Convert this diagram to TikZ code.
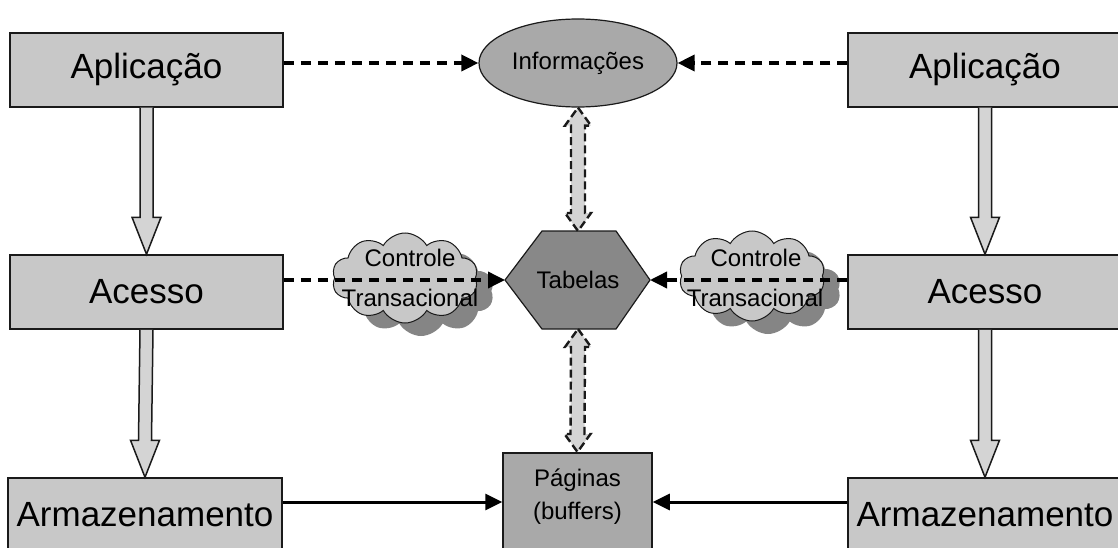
\documentclass[tikz,border=0pt]{standalone}
\usepackage{fontspec}
\setmainfont{Liberation Sans}
\usetikzlibrary{shapes.geometric,shapes.symbols,arrows.meta,calc}
\definecolor{boxgray}{HTML}{C8C8C8}
\definecolor{midgray}{HTML}{A9A9A9}
\definecolor{hexgray}{HTML}{888888}
\definecolor{shadowgray}{HTML}{858585}
\definecolor{arrowgray}{HTML}{D4D4D4}
\definecolor{edge}{HTML}{1A1A1A}

% single downward block arrow from the bottom of #1 to the top of #2
\newcommand\blockdown[2]{%
  \draw[blk] ($(#1.south)+(-6.5,0)$) -- ($(#2.north)+(-6.5,-37)$)
    -- ($(#2.north)+(-14.5,-37)$) -- (#2.north) -- ($(#2.north)+(14.5,-37)$)
    -- ($(#2.north)+(6.5,-37)$) -- ($(#1.south)+(6.5,0)$);}
% hollow double-headed block arrow between two points, #1 above #2
\newcommand\blockboth[2]{%
  \draw[blk2] (#1) -- ($(#1)+(13,18)$) -- ($(#1)+(7,18)$) -- ($(#2)+(7,-18)$)
    -- ($(#2)+(13,-18)$) -- (#2) -- ($(#2)+(-13,-18)$) -- ($(#2)+(-7,-18)$)
    -- ($(#1)+(-7,18)$) -- ($(#1)+(-13,18)$) -- cycle;}

\begin{document}
\begin{tikzpicture}[x=1pt,y=-1pt,
  layer/.style={rectangle,draw=edge,line width=1.5pt,fill=boxgray,
    minimum width=#1,minimum height=74pt,inner sep=0pt,
    font=\fontsize{35}{40}\selectfont},
  flow/.style={line width=3.6pt,dash pattern=on 10pt off 7pt,
    -{Triangle[length=17pt,width=16pt]}},
  feed/.style={line width=3pt,-{Triangle[length=17pt,width=16pt]}},
  blk/.style={draw=edge,line width=1.5pt,fill=arrowgray,line join=miter},
  blk2/.style={draw=edge,line width=2.4pt,dash pattern=on 8pt off 4pt,fill=arrowgray},
  puff/.style={cloud,cloud puffs=10,cloud puff arc=120,cloud ignores aspect,
    minimum width=146pt,minimum height=90pt,inner sep=0pt},
  cloudtext/.style={font=\fontsize{24}{28}\selectfont,inner sep=0pt},
  small/.style={font=\fontsize{24}{28}\selectfont}]

\useasboundingbox (0,0) rectangle (1118,548);

% layer boxes
\node[layer=273pt] (apL) at (146.5,70) {Aplicação};
\node[layer=273pt] (acL) at (146.5,292) {Acesso};
\node[layer=274pt] (arL) at (145,515) {Armazenamento};
\node[layer=274pt] (apR) at (985,70) {Aplicação};
\node[layer=274pt] (acR) at (985,292) {Acesso};
\node[layer=274pt] (arR) at (985,515) {Armazenamento};

% vertical flow between layers
\blockdown{apL}{acL}
\blockdown{acL}{arL}
\blockdown{apR}{acR}
\blockdown{acR}{arR}

% shared information
\node[ellipse,draw=edge,line width=1.2pt,fill=midgray,minimum width=198pt,
  minimum height=88pt,inner sep=0pt,small] (info) at (578,63) {Informações};

% tables (hexagon)
\node[small,inner sep=0pt] (tab) at (578,280) {Tabelas};
\coordinate (tabW) at ($(tab)+(-73,0)$);
\coordinate (tabE) at ($(tab)+(72,0)$);
\coordinate (tabN) at ($(tab)+(0,-49)$);
\coordinate (tabS) at ($(tab)+(0,49)$);
\filldraw[fill=hexgray,draw=edge,line width=1.2pt] (tabW) -- ($(tab)+(-36,-49)$)
  -- ($(tab)+(38,-49)$) -- (tabE) -- ($(tab)+(38,49)$) -- ($(tab)+(-36,49)$) -- cycle;
\node[small,inner sep=0pt] at (tab) {Tabelas};

% pages (buffers)
\node[rectangle,draw=edge,line width=1.5pt,fill=midgray,minimum width=149pt,
  minimum height=100pt,anchor=north,inner sep=0pt] (pag) at (577.5,452) {};
\node[font=\fontsize{24}{33}\selectfont,align=center,inner sep=0pt] (pagtxt)
  at (577.5,497) {Páginas\\(buffers)};

% transaction control clouds
\node[puff,fill=shadowgray] (shL) at (421,291) {};
\node[puff,draw=edge,line width=1pt,fill=boxgray] (clL) at (405,278) {};
\node[cloudtext] (ctL1) at (410,258) {Controle};
\node[cloudtext] (ctL2) at (410,298) {Transacional};
\node[puff,fill=shadowgray] (shR) at (768,289) {};
\node[puff,draw=edge,line width=1pt,fill=boxgray] (clR) at (752,276) {};
\node[cloudtext] (ctR1) at (756,258) {Controle};
\node[cloudtext] (ctR2) at (755,298) {Transacional};

% double-headed links through the centre column
\blockboth{info.south}{tabN}
\blockboth{tabS}{pag.north}

% dashed links to the shared structures
\coordinate (a1) at ($(apL.east)+(0,-7)$);
\coordinate (a2) at ($(apR.west)+(0,-7)$);
\draw[flow] (a1) -- (a1 -| info.west);
\draw[flow] (a2) -- (a2 -| info.east);
\coordinate (b1) at ($(acL.east)+(0,-12)$);
\coordinate (b2) at ($(acR.west)+(0,-12)$);
\draw[flow] (b1) -- (tabW);
\draw[flow] (b2) -- (tabE);

% storage to pages
\coordinate (c1) at ($(arL.east)+(0,-13)$);
\coordinate (c2) at ($(arR.west)+(0,-13)$);
\draw[feed] (c1) -- (c1 -| pag.west);
\draw[feed] (c2) -- (c2 -| pag.east);

\end{tikzpicture}
\end{document}
